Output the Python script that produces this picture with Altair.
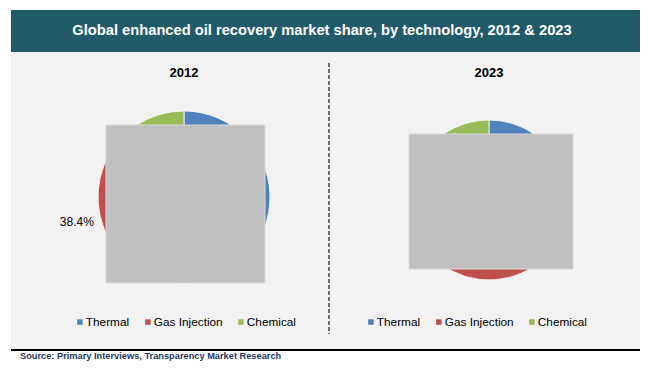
import altair as alt
import pandas as pd

categories = ["Thermal", "Gas Injection", "Chemical"]
colors = ["#4f81bd", "#c0504d", "#9bbb59"]
share_2012 = [52.2, 38.4, 9.4]
share_2023 = [40.5, 45.3, 14.2]
years = ["2012", "2023"]
title_text = "Global enhanced oil recovery market share, by technology, 2012 & 2023"
source_text = "Source: Primary Interviews, Transparency Market Research"
label_2012 = ["", "38.4%", ""]

FONT = "Arial, Liberation Sans"

df12 = pd.DataFrame({"tech": categories, "share": share_2012, "ord": [0, 1, 2], "lbl": label_2012})
df23 = pd.DataFrame({"tech": categories, "share": share_2023, "ord": [0, 1, 2]})

one = alt.Data(values=[{}])


def box(x, x2, y, y2, fill, stroke=None):
    kw = {"color": fill}
    if stroke:
        kw.update(stroke=stroke, strokeWidth=1)
    return alt.Chart(one).mark_rect(**kw).encode(
        x=alt.value(x), x2=alt.value(x2), y=alt.value(y), y2=alt.value(y2))


def txt(s, x, y, size, color, bold=False, align="center"):
    return alt.Chart(one).mark_text(
        text=s, font=FONT, fontSize=size, color=color,
        fontWeight="bold" if bold else "normal", align=align, baseline="middle"
    ).encode(x=alt.value(x), y=alt.value(y))


title_bar = box(3, 632, 2, 44, "#215a69")
panel = box(3, 632, 44, 341, "#f2f2f2")
base_line = box(3, 632, 341, 343, "#000000")

divider = alt.Chart(one).mark_rule(color="#404040", strokeWidth=1.5, strokeDash=[4, 2]).encode(
    x=alt.value(321), y=alt.value(55), y2=alt.value(326))

legend_common = dict(
    orient="none", direction="horizontal", title=None, symbolType="square",
    symbolSize=30, symbolStrokeWidth=0, labelFont=FONT, labelFontSize=11.8,
    labelColor="#000000", labelOffset=0, columnPadding=12, padding=0,
    legendY=308,
)

pie12 = alt.Chart(df12).mark_arc(radius=86, stroke="#ffffff", strokeWidth=0.8).encode(
    theta=alt.Theta("share:Q", stack=True),
    order=alt.Order("ord:Q"),
    color=alt.Color("tech:N", scale=alt.Scale(domain=categories, range=colors),
                    legend=alt.Legend(legendX=66, **legend_common)),
    x=alt.value(176), y=alt.value(189),
)

lbl12 = alt.Chart(df12).mark_text(radius=110, font=FONT, fontSize=12, color="#000000").encode(
    theta=alt.Theta("share:Q", stack=True),
    order=alt.Order("ord:Q"),
    text="lbl:N",
    x=alt.value(176), y=alt.value(189),
)

pie23 = alt.Chart(df23).mark_arc(radius=80, stroke="#ffffff", strokeWidth=0.8).encode(
    theta=alt.Theta("share:Q", stack=True),
    order=alt.Order("ord:Q"),
    color=alt.Color("tech:N", scale=alt.Scale(domain=categories, range=colors),
                    legend=alt.Legend(legendX=357, **legend_common)),
    x=alt.value(481), y=alt.value(192),
)

cover12 = box(98, 257, 117, 275, "#bfbfbf", "#d9d9d9")
cover23 = box(401, 565, 126, 261, "#bfbfbf", "#d9d9d9")

chart = alt.layer(
    title_bar, panel, base_line, divider,
    txt(title_text, 314, 23, 14.7, "#ffffff", bold=True),
    txt(years[0], 176, 65, 13, "#000000", bold=True),
    txt(years[1], 481, 65, 13, "#000000", bold=True),
    pie12, lbl12, pie23, cover12, cover23,
    txt(source_text, 12, 348, 9.25, "#1f3864", bold=True, align="left"),
).properties(
    width=634, height=358, autosize=alt.AutoSizeParams(type="none"), padding=0,
    background="#ffffff",
).resolve_scale(theta="independent", color="independent").resolve_legend(
    color="independent"
).configure_view(stroke=None)

chart.save("out.html", embed_options={"renderer": "svg", "actions": False})
